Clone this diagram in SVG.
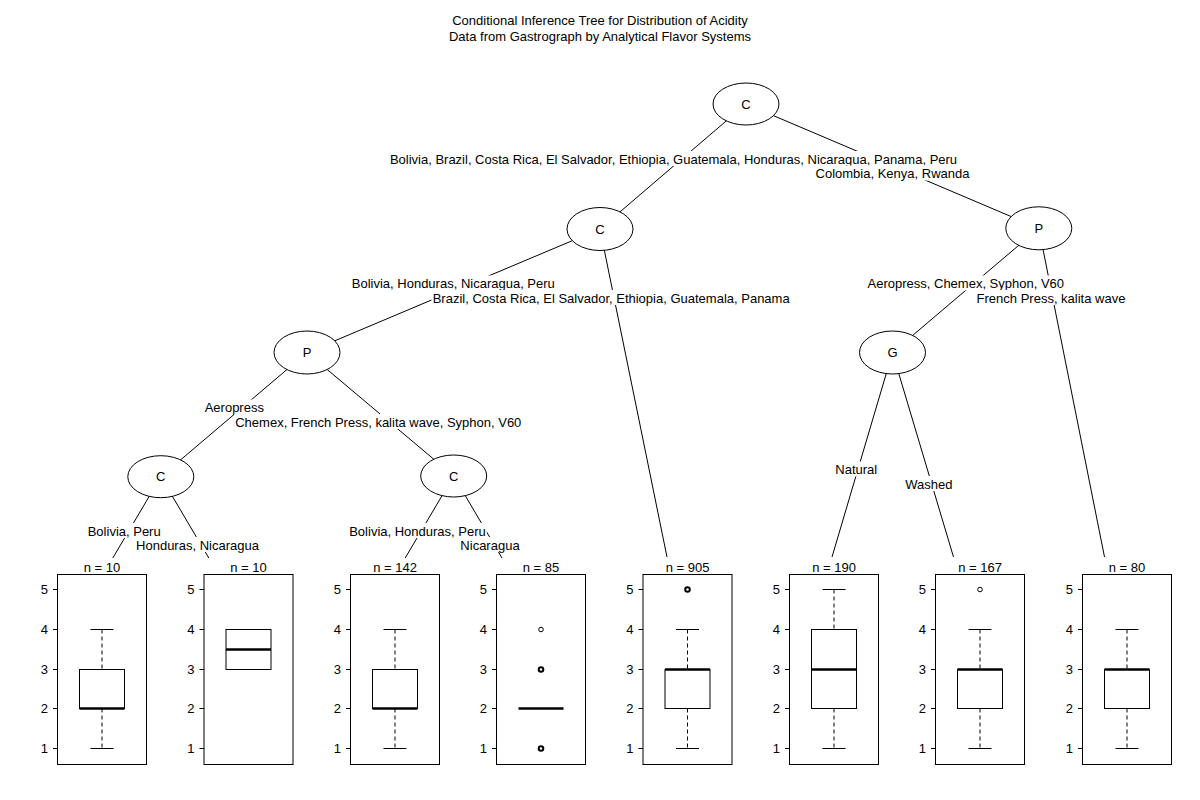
<svg xmlns="http://www.w3.org/2000/svg" width="1200" height="800" viewBox="0 0 1200 800">
<style>
text{font-family:"Liberation Sans",Arial,sans-serif;font-size:13px;fill:#000}
.m{text-anchor:middle}
.e{text-anchor:end}
.edge{stroke:#000;stroke-width:1;fill:none}
.lbg{fill:#fff;stroke:none}
.nd{fill:#fff;stroke:#000;stroke-width:1}
.pan{fill:#fff;stroke:#000;stroke-width:1}
.ln{stroke:#000;stroke-width:1;fill:none}
.wh{stroke:#000;stroke-width:1;stroke-dasharray:4,3;fill:none}
.med{stroke:#000;stroke-width:2.5}
.o1{fill:none;stroke:#000;stroke-width:1}
.o2{fill:none;stroke:#000;stroke-width:2}
</style>
<rect width="1200" height="800" fill="#fff"/>
<g id="title">
<text class="m" x="600" y="25">Conditional Inference Tree for Distribution of Acidity</text>
<text class="m" x="600" y="41">Data from Gastrograph by Analytical Flavor Systems</text>
</g>
<g id="connectors">
<line class="edge" x1="746" y1="104" x2="600" y2="229"/>
<line class="edge" x1="746" y1="104" x2="1038.8" y2="228.3"/>
<line class="edge" x1="600" y1="229" x2="307" y2="352.5"/>
<line class="edge" x1="600" y1="229" x2="667" y2="557"/>
<line class="edge" x1="307" y1="352.5" x2="160.8" y2="476.7"/>
<line class="edge" x1="307" y1="352.5" x2="453.7" y2="476"/>
<line class="edge" x1="160.8" y1="476.7" x2="112.8" y2="558"/>
<line class="edge" x1="160.8" y1="476.7" x2="208.8" y2="558"/>
<line class="edge" x1="453.7" y1="476" x2="405.2" y2="558"/>
<line class="edge" x1="453.7" y1="476" x2="502" y2="558"/>
<line class="edge" x1="1038.8" y1="228.3" x2="892.5" y2="352.5"/>
<line class="edge" x1="1038.8" y1="228.3" x2="1104.5" y2="557"/>
<line class="edge" x1="892.5" y1="352.5" x2="832" y2="557"/>
<line class="edge" x1="892.5" y1="352.5" x2="953.5" y2="557"/>
</g>
<g id="edge-labels">
<rect class="lbg" x="388.6" y="151" width="570" height="15"/>
<text class="m" x="673.5" y="163.5">Bolivia, Brazil, Costa Rica, El Salvador, Ethiopia, Guatemala, Honduras, Nicaragua, Panama, Peru</text>
<rect class="lbg" x="814.5" y="165.5" width="156" height="15"/>
<text class="m" x="892.5" y="178">Colombia, Kenya, Rwanda</text>
<rect class="lbg" x="350.8" y="275.5" width="205" height="15"/>
<text class="m" x="453.3" y="288">Bolivia, Honduras, Nicaragua, Peru</text>
<rect class="lbg" x="431.4" y="290" width="359.6" height="15"/>
<text class="m" x="611.2" y="302.5">Brazil, Costa Rica, El Salvador, Ethiopia, Guatemala, Panama</text>
<rect class="lbg" x="203.7" y="399.5" width="61.2" height="15"/>
<text class="m" x="234.3" y="412">Aeropress</text>
<rect class="lbg" x="234.2" y="414" width="288.2" height="15"/>
<text class="m" x="378.3" y="426.5">Chemex, French Press, kalita wave, Syphon, V60</text>
<rect class="lbg" x="86.7" y="523" width="75" height="15"/>
<text class="m" x="124.2" y="535.5">Bolivia, Peru</text>
<rect class="lbg" x="135.1" y="537" width="124.8" height="15"/>
<text class="m" x="197.5" y="549.5">Honduras, Nicaragua</text>
<rect class="lbg" x="348.2" y="523" width="138.6" height="15"/>
<text class="m" x="417.5" y="535.5">Bolivia, Honduras, Peru</text>
<rect class="lbg" x="459.4" y="537" width="61.2" height="15"/>
<text class="m" x="490" y="549.5">Nicaragua</text>
<rect class="lbg" x="834.4" y="461.5" width="43.9" height="15"/>
<text class="m" x="856.3" y="474">Natural</text>
<rect class="lbg" x="904" y="476" width="49.7" height="15"/>
<text class="m" x="928.8" y="488.5">Washed</text>
<rect class="lbg" x="866.5" y="275.5" width="198.5" height="15"/>
<text class="m" x="965.8" y="288">Aeropress, Chemex, Syphon, V60</text>
<rect class="lbg" x="975.6" y="290" width="150.8" height="15"/>
<text class="m" x="1051" y="302.5">French Press, kalita wave</text>
</g>
<g id="node1"><ellipse class="nd" cx="746" cy="104" rx="33" ry="21"/><text class="m" x="746" y="108.5">C</text></g>
<g id="node2"><ellipse class="nd" cx="600" cy="229" rx="33" ry="21.5"/><text class="m" x="600" y="233.5">C</text></g>
<g id="node3"><ellipse class="nd" cx="307" cy="352.5" rx="33" ry="21.5"/><text class="m" x="307" y="357">P</text></g>
<g id="node4"><ellipse class="nd" cx="160.8" cy="476.7" rx="33" ry="21"/><text class="m" x="160.8" y="481.2">C</text></g>
<g id="node7"><ellipse class="nd" cx="453.7" cy="476" rx="33" ry="21"/><text class="m" x="453.7" y="480.5">C</text></g>
<g id="node11"><ellipse class="nd" cx="1038.8" cy="228.3" rx="33" ry="21.5"/><text class="m" x="1038.8" y="232.8">P</text></g>
<g id="node12"><ellipse class="nd" cx="892.5" cy="352.5" rx="33" ry="21.5"/><text class="m" x="892.5" y="357">G</text></g>
<defs>
<g id="axis">
<line class="ln" x1="-4.5" y1="589.5" x2="0" y2="589.5"/>
<line class="ln" x1="-4.5" y1="629.5" x2="0" y2="629.5"/>
<line class="ln" x1="-4.5" y1="669.5" x2="0" y2="669.5"/>
<line class="ln" x1="-4.5" y1="708.5" x2="0" y2="708.5"/>
<line class="ln" x1="-4.5" y1="748.5" x2="0" y2="748.5"/>
<text class="e" x="-9.5" y="594">5</text>
<text class="e" x="-9.5" y="634">4</text>
<text class="e" x="-9.5" y="674">3</text>
<text class="e" x="-9.5" y="713">2</text>
<text class="e" x="-9.5" y="753">1</text>
<rect class="pan" x="0" y="574.5" width="89" height="190"/>
</g>
</defs>
<g id="term1" transform="translate(57.5,0)">
<use href="#axis"/>
<text class="m" x="44.5" y="572">n = 10</text>
<line class="wh" x1="44.5" y1="629.5" x2="44.5" y2="669.5"/>
<line class="wh" x1="44.5" y1="708.5" x2="44.5" y2="748.5"/>
<line class="ln" x1="33" y1="629.5" x2="56" y2="629.5"/>
<line class="ln" x1="33" y1="748.5" x2="56" y2="748.5"/>
<rect class="ln" x="22" y="669.5" width="45" height="39"/>
<line class="med" x1="22" y1="708.5" x2="67" y2="708.5"/>
</g>
<g id="term2" transform="translate(204,0)">
<use href="#axis"/>
<text class="m" x="44.5" y="572">n = 10</text>
<rect class="ln" x="22" y="629.5" width="45" height="40"/>
<line class="med" x1="22" y1="649.5" x2="67" y2="649.5"/>
</g>
<g id="term3" transform="translate(350.5,0)">
<use href="#axis"/>
<text class="m" x="44.5" y="572">n = 142</text>
<line class="wh" x1="44.5" y1="629.5" x2="44.5" y2="669.5"/>
<line class="wh" x1="44.5" y1="708.5" x2="44.5" y2="748.5"/>
<line class="ln" x1="33" y1="629.5" x2="56" y2="629.5"/>
<line class="ln" x1="33" y1="748.5" x2="56" y2="748.5"/>
<rect class="ln" x="22" y="669.5" width="45" height="39"/>
<line class="med" x1="22" y1="708.5" x2="67" y2="708.5"/>
</g>
<g id="term4" transform="translate(496.5,0)">
<use href="#axis"/>
<text class="m" x="44.5" y="572">n = 85</text>
<line class="med" x1="22" y1="708.5" x2="67" y2="708.5"/>
<circle class="o1" cx="44.5" cy="629.5" r="2.3"/>
<circle class="o2" cx="44.5" cy="669.5" r="2.3"/>
<circle class="o2" cx="44.5" cy="748.5" r="2.3"/>
</g>
<g id="term5" transform="translate(643,0)">
<use href="#axis"/>
<text class="m" x="44.5" y="572">n = 905</text>
<line class="wh" x1="44.5" y1="629.5" x2="44.5" y2="669.5"/>
<line class="wh" x1="44.5" y1="708.5" x2="44.5" y2="748.5"/>
<line class="ln" x1="33" y1="629.5" x2="56" y2="629.5"/>
<line class="ln" x1="33" y1="748.5" x2="56" y2="748.5"/>
<rect class="ln" x="22" y="669.5" width="45" height="39"/>
<line class="med" x1="22" y1="669.5" x2="67" y2="669.5"/>
<circle class="o2" cx="44.5" cy="589.5" r="2.3"/>
</g>
<g id="term6" transform="translate(789.5,0)">
<use href="#axis"/>
<text class="m" x="44.5" y="572">n = 190</text>
<line class="wh" x1="44.5" y1="589.5" x2="44.5" y2="629.5"/>
<line class="wh" x1="44.5" y1="708.5" x2="44.5" y2="748.5"/>
<line class="ln" x1="33" y1="589.5" x2="56" y2="589.5"/>
<line class="ln" x1="33" y1="748.5" x2="56" y2="748.5"/>
<rect class="ln" x="22" y="629.5" width="45" height="79"/>
<line class="med" x1="22" y1="669.5" x2="67" y2="669.5"/>
</g>
<g id="term7" transform="translate(935.5,0)">
<use href="#axis"/>
<text class="m" x="44.5" y="572">n = 167</text>
<line class="wh" x1="44.5" y1="629.5" x2="44.5" y2="669.5"/>
<line class="wh" x1="44.5" y1="708.5" x2="44.5" y2="748.5"/>
<line class="ln" x1="33" y1="629.5" x2="56" y2="629.5"/>
<line class="ln" x1="33" y1="748.5" x2="56" y2="748.5"/>
<rect class="ln" x="22" y="669.5" width="45" height="39"/>
<line class="med" x1="22" y1="669.5" x2="67" y2="669.5"/>
<circle class="o1" cx="44.5" cy="589.5" r="2.3"/>
</g>
<g id="term8" transform="translate(1082.5,0)">
<use href="#axis"/>
<text class="m" x="44.5" y="572">n = 80</text>
<line class="wh" x1="44.5" y1="629.5" x2="44.5" y2="669.5"/>
<line class="wh" x1="44.5" y1="708.5" x2="44.5" y2="748.5"/>
<line class="ln" x1="33" y1="629.5" x2="56" y2="629.5"/>
<line class="ln" x1="33" y1="748.5" x2="56" y2="748.5"/>
<rect class="ln" x="22" y="669.5" width="45" height="39"/>
<line class="med" x1="22" y1="669.5" x2="67" y2="669.5"/>
</g>
</svg>
